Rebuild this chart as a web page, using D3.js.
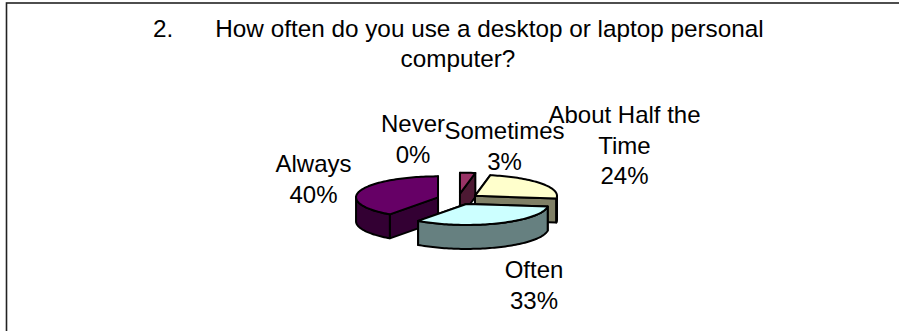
<!DOCTYPE html>
<html><head><meta charset="utf-8">
<script src="https://cdn.jsdelivr.net/npm/d3@7"></script>
<style>html,body{margin:0;padding:0;background:#fff;overflow:hidden}svg{display:block}text{font-family:"Liberation Sans",Arial,sans-serif;font-size:24px;fill:#000}</style>
</head><body><svg id="c" width="899" height="331"></svg>
<script>
const categories = ["Never","Sometimes","About Half the Time","Often","Always"];
const values = [0,3,24,33,40];
const topColors = ["#000080","#993366","#FFFFCC","#CCFFFF","#660066"];
const sideColors = ["#000040","#4D1933","#808066","#668080","#330033"];
const titleLines = ["How often do you use a desktop or laptop personal","computer?"];
const labelLines = [["Never","0%"],["Sometimes","3%"],["About Half the","Time","24%"],["Often","33%"],["Always","40%"]];

const svg = d3.select("#c");
svg.append("rect").attr("x",6.5).attr("y",3).attr("width",920).attr("height",360).attr("fill","#fff").attr("stroke","#222").attr("stroke-width",1.6);

const t = svg.append("g").style("font-size","24.3px");
t.append("text").style("font-size","inherit").attr("x",153).attr("y",37).text("2.");
t.append("text").style("font-size","inherit").attr("x",489.5).attr("y",37).attr("text-anchor","middle").text(titleLines[0]);
t.append("text").style("font-size","inherit").attr("x",458).attr("y",67).attr("text-anchor","middle").text(titleLines[1]);

const cx=458, cy=199, rx=82, ry=21, ex=21, depth=24;
const pieGen = d3.pie().sort(null).value(d=>d);
const arcs = pieGen(values);
const px=(a,r=1)=>r*rx*Math.sin(a), py=(a,r=1)=>-r*ry*Math.cos(a);
const line = d3.line();
const order=[0,1,2,4,3];
const g = svg.append("g");
order.forEach(i=>{
  const d=arcs[i]; if(d.value===0) return;
  const mid=(d.startAngle+d.endAngle)/2;
  const ox=cx+ex*Math.sin(mid), oy=cy-ex*(ry/rx)*Math.cos(mid);
  const s=g.append("g").attr("transform",`translate(${ox},${oy})`);
  const n=Math.max(4,Math.ceil((d.endAngle-d.startAngle)/0.03));
  const ang=d3.range(n+1).map(k=>d.startAngle+(d.endAngle-d.startAngle)*k/n);
  const rim=ang.map(a=>[px(a),py(a)]);
  const style=(p,c)=>p.attr("fill",c).attr("stroke","#000").attr("stroke-width",2).attr("stroke-linejoin","round");
  const wall=(pts)=>style(s.append("path").attr("d",line(pts)+"Z"),sideColors[i]);
  [d.startAngle,d.endAngle].forEach(a=>{
    wall([[0,0],[px(a),py(a)],[px(a),py(a)+depth],[0,depth]]);
  });
  const front=ang.filter(a=>Math.cos(a)<=0.02);
  if(front.length>1){
    const f=front.map(a=>[px(a),py(a)]);
    wall(f.concat(f.slice().reverse().map(p=>[p[0],p[1]+depth])));
  }
  style(s.append("path").attr("d",line([[0,0]].concat(rim))+"Z"),topColors[i]);
});

const labelCentre=[413,504.5,624.5,534,313.5];
const labelBase=[132,139,123,278,172];
labelLines.forEach((ls,i)=>{
  const tx=svg.append("text").attr("text-anchor","middle");
  ls.forEach((l,k)=>tx.append("tspan").attr("x",labelCentre[i]).attr("y",labelBase[i]+k*30.5).text(l));
});
</script></body></html>
